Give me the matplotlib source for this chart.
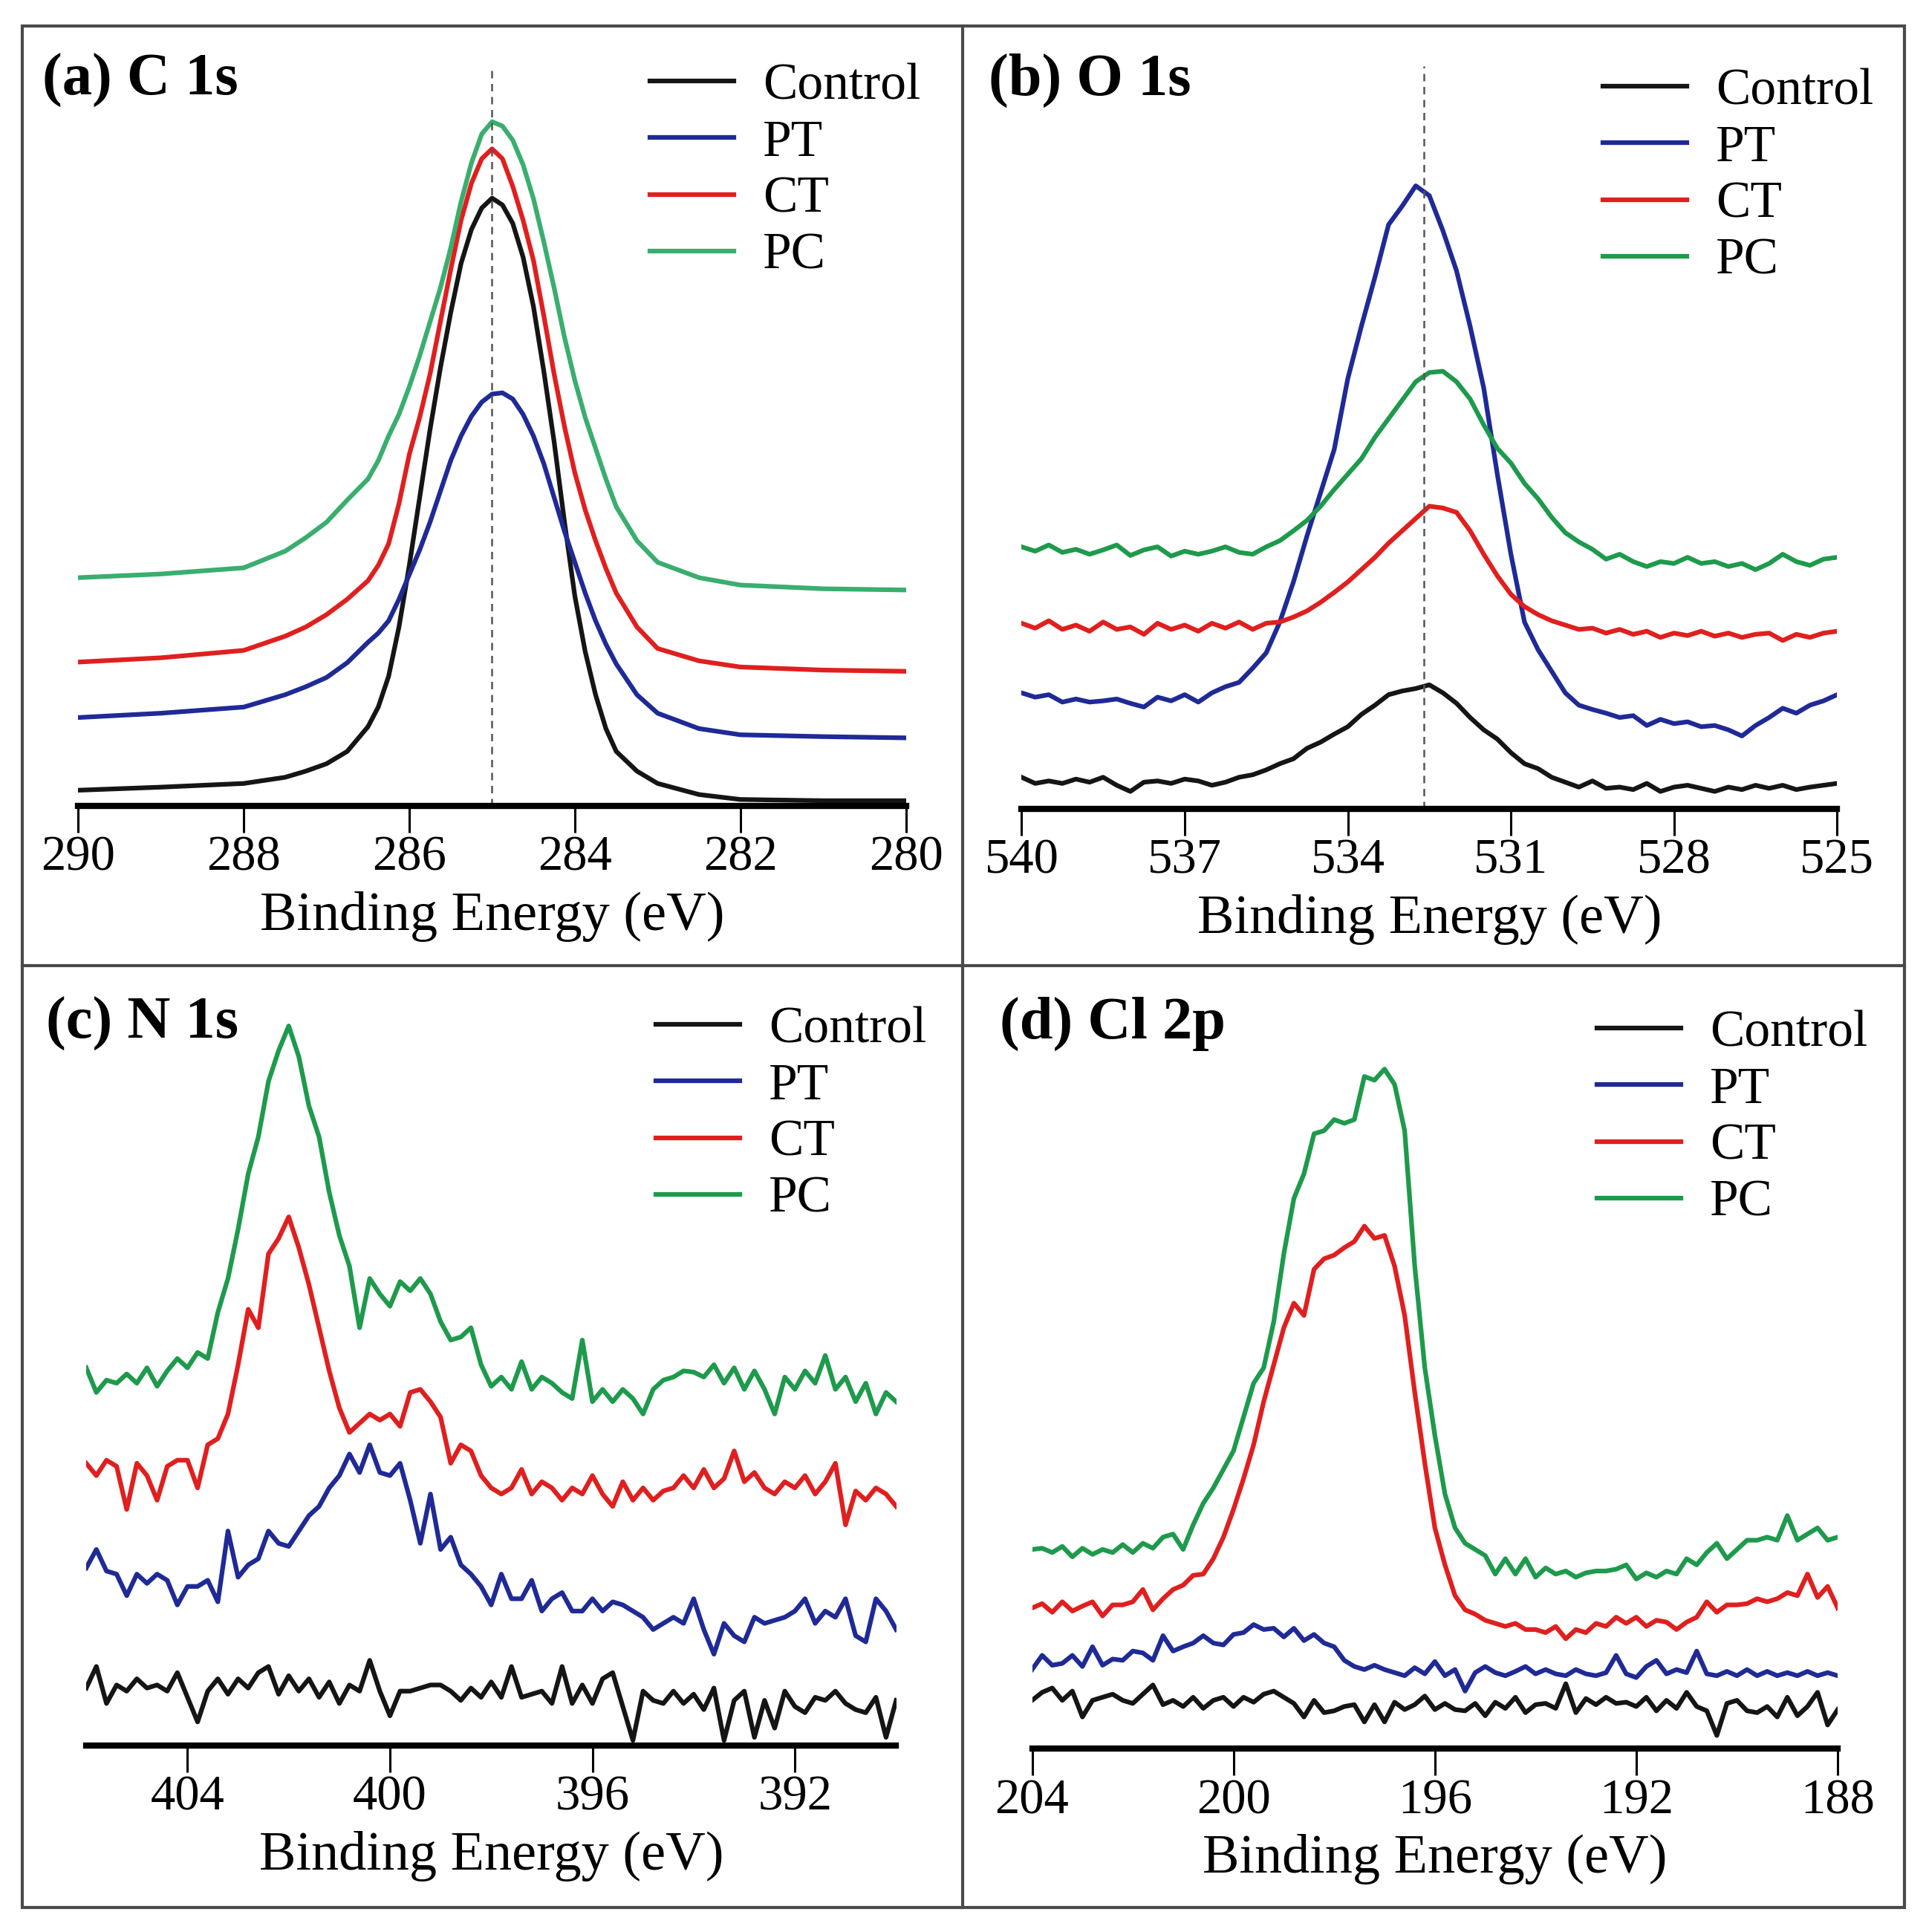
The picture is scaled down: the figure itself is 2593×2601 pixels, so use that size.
import matplotlib
matplotlib.use('Agg')
import matplotlib.pyplot as plt
import numpy as np
from matplotlib.patches import Rectangle
from matplotlib.lines import Line2D

plt.rcParams['font.family'] = 'Liberation Serif'

W, H = 2593, 2601

# ---- (a) C 1s ----
E_a = [290, 289, 288.5, 288, 287.5, 287.25, 287, 286.75,
       286.5, 286.375, 286.25, 286.125, 286, 285.875, 285.75, 285.625, 285.5, 285.375, 285.25, 285.125,
       285, 284.875, 284.75, 284.625, 284.5, 284.375, 284.25, 284.125, 284, 283.875, 283.75, 283.625, 283.5,
       283.25, 283, 282.5, 282, 281, 280]
c1s_control = [25, 30, 33, 36, 46, 56, 68, 88,
               128, 160, 210, 290, 390, 500, 610, 710, 800, 880, 935, 970, 986, 975, 945, 890, 810,
               705, 590, 460, 340, 250, 180, 125, 88,
               56, 36, 18, 10, 8, 8]
c1s_pt = [143, 150, 155, 160, 180, 193, 208, 232,
          265, 280, 300, 335, 375, 415, 460, 510, 560, 600, 632, 655, 668, 670, 660, 635, 600,
          555, 500, 445, 395, 345, 300, 262, 230,
          180, 150, 125, 115, 112, 110]
c1s_ct = [233, 240, 246, 252, 275, 290, 310, 335,
          365, 390, 425, 490, 570, 630, 700, 785, 870, 950, 1010, 1050, 1066, 1050, 1005, 950, 885,
          795, 700, 615, 540, 480, 430, 385, 345,
          290, 255, 235, 225, 220, 218]
c1s_pc = [370, 376, 381, 386, 413, 435, 460, 496,
          530, 560, 600, 635, 680, 730, 785, 840, 905, 980, 1043, 1090, 1110, 1103, 1080, 1040, 985,
          915, 840, 760, 690, 630, 580, 530, 485,
          430, 395, 370, 358, 352, 350]

# ---- (b) O 1s ---- 540 -> 525 eV, 0.25 eV step
E_b = np.linspace(540, 525, 61)
o1s_control = [51, 41, 45, 41, 48, 43, 51, 38, 28, 43, 45, 41, 48, 45, 38, 43, 51, 55, 63, 73,
               81, 98, 108, 121, 133, 153, 168, 185, 191, 195, 201, 188, 171, 148, 128, 113, 91, 73, 65, 51,
               43, 35, 45, 33, 35, 31, 41, 28, 35, 38, 33, 28, 35, 31, 38, 33, 38, 31, 35, 38,
               41]
o1s_pt = [188, 181, 185, 173, 178, 173, 175, 178, 171, 165, 181, 175, 185, 173, 188, 198, 205, 228, 253, 303,
          368, 443, 513, 583, 698, 783, 863, 948, 978, 1011, 995, 938, 873, 783, 683, 543, 413, 303, 258, 223,
          188, 168, 161, 155, 148, 151, 135, 145, 138, 141, 133, 135, 128, 118, 135, 148, 163, 155, 168, 175,
          185]
o1s_ct = [301, 293, 305, 291, 298, 288, 303, 291, 295, 283, 301, 291, 298, 288, 301, 293, 303, 291, 301, 303,
          311, 321, 335, 351, 368, 388, 408, 431, 451, 471, 491, 488, 481, 451, 413, 378, 348, 328, 315, 305,
          298, 291, 293, 285, 291, 283, 288, 278, 285, 281, 288, 280, 285, 278, 283, 285, 273, 283, 278, 285,
          288]
o1s_pc = [425, 418, 428, 416, 421, 413, 420, 428, 411, 420, 425, 410, 418, 413, 418, 425, 416, 413, 425, 435,
          451, 468, 491, 518, 543, 568, 603, 633, 663, 693, 708, 710, 693, 665, 623, 585, 561, 528, 503, 473,
          448, 433, 421, 405, 413, 401, 393, 401, 398, 408, 398, 401, 393, 398, 388, 398, 413, 401, 395, 405,
          408]

# ---- (c) N 1s ---- 406 -> 390 eV, 0.2 eV step
E_c = np.linspace(406, 390, 81)
n1s_control = [93, 128, 68, 98, 88, 108, 93, 98, 88, 118, 78, 38, 88, 108, 83, 108, 93, 118, 128, 83,
               113, 88, 108, 78, 103, 68, 98, 88, 138, 88, 48, 88, 88, 93, 98, 98, 88, 73, 93, 78,
               103, 78, 128, 78, 83, 88, 68, 128, 68, 98, 68, 108, 118, 63, 8, 88, 73, 68, 88, 68,
               83, 58, 93, 8, 73, 88, 13, 73, 28, 88, 63, 53, 78, 73, 88, 68, 58, 53, 78, 13,
               73]
n1s_pt = [288, 318, 283, 278, 243, 278, 263, 278, 268, 228, 258, 258, 268, 233, 348, 273, 293, 303, 348, 328,
          323, 348, 373, 388, 418, 438, 473, 443, 488, 443, 438, 458, 398, 328, 408, 318, 338, 293, 278, 258,
          228, 278, 238, 238, 268, 218, 238, 248, 218, 218, 238, 218, 233, 228, 218, 208, 188, 198, 208, 198,
          238, 188, 148, 198, 178, 168, 208, 198, 203, 208, 218, 238, 198, 218, 208, 238, 178, 168, 238, 218,
          188]
n1s_ct = [458, 438, 463, 453, 383, 458, 438, 398, 453, 463, 463, 418, 488, 498, 538, 618, 708, 678, 798, 823,
          858, 808, 748, 678, 608, 548, 508, 523, 538, 528, 538, 518, 573, 578, 558, 533, 458, 488, 478, 438,
          418, 408, 418, 448, 408, 428, 418, 398, 418, 408, 438, 408, 388, 428, 398, 418, 398, 413, 418, 438,
          418, 448, 418, 433, 478, 428, 443, 418, 408, 428, 418, 438, 408, 428, 458, 358, 413, 398, 418, 408,
          388]
n1s_pc = [613, 573, 593, 588, 603, 588, 613, 583, 608, 628, 613, 638, 628, 703, 758, 838, 928, 988, 1078, 1128,
          1168, 1118, 1038, 988, 898, 828, 778, 678, 758, 733, 713, 753, 738, 758, 733, 688, 658, 663, 678, 618,
          583, 598, 578, 623, 578, 598, 588, 573, 563, 658, 558, 578, 558, 578, 563, 538, 578, 593, 598, 608,
          606, 598, 618, 588, 613, 578, 608, 578, 538, 598, 578, 608, 588, 633, 578, 598, 558, 588, 538, 573,
          558]

# ---- (d) Cl 2p ---- 204 -> 188 eV, 0.2 eV step
E_d = np.linspace(204, 188, 81)
cl2p_control = [78, 91, 98, 78, 93, 51, 78, 83, 88, 78, 73, 88, 103, 71, 78, 68, 83, 65, 78, 83,
                68, 83, 75, 88, 93, 83, 73, 51, 78, 58, 61, 68, 71, 43, 71, 43, 75, 63, 71, 85,
                63, 73, 63, 61, 73, 53, 75, 65, 83, 58, 71, 73, 65, 105, 58, 81, 71, 83, 73, 75,
                68, 83, 61, 78, 65, 91, 68, 61, 21, 73, 78, 61, 58, 68, 51, 83, 53, 68, 91, 38,
                63]
cl2p_pt = [128, 151, 135, 138, 151, 133, 165, 135, 145, 143, 158, 155, 143, 183, 158, 165, 171, 183, 171, 168,
           185, 188, 201, 193, 195, 181, 195, 175, 185, 171, 165, 143, 133, 128, 135, 128, 123, 118, 131, 121,
           141, 118, 128, 93, 123, 133, 123, 118, 125, 133, 121, 128, 121, 118, 128, 121, 118, 123, 151, 121,
           115, 133, 143, 121, 128, 123, 158, 121, 118, 125, 118, 128, 118, 125, 118, 123, 118, 125, 118, 123,
           118]
cl2p_ct = [228, 235, 221, 238, 223, 231, 238, 215, 233, 233, 238, 258, 225, 243, 258, 265, 281, 283, 308, 343,
           388, 438, 493, 563, 623, 683, 723, 703, 778, 795, 801, 813, 823, 848, 828, 833, 783, 703, 578, 463,
           358, 298, 248, 225, 218, 208, 203, 198, 203, 193, 193, 188, 198, 178, 193, 188, 203, 198, 213, 203,
           213, 198, 208, 205, 193, 205, 213, 238, 221, 233, 233, 235, 243, 238, 243, 253, 248, 283, 245, 263,
           228]
cl2p_pc = [323, 325, 318, 328, 311, 325, 315, 323, 318, 331, 318, 333, 325, 343, 348, 323, 363, 398, 423, 453,
           483, 538, 593, 618, 693, 803, 893, 933, 998, 1003, 1021, 1015, 1021, 1091, 1085, 1103, 1078, 1003, 783, 618,
           508, 413, 358, 333, 323, 313, 283, 308, 283, 308, 278, 293, 283, 288, 278, 285, 288, 288, 291, 298,
           275, 285, 278, 288, 283, 308, 298, 318, 333, 308, 323, 338, 338, 343, 338, 378, 338, 348, 358, 338,
           343]

names = ['Control', 'PT', 'CT', 'PC']

# panel layout in pixels: x of left/right axis ends, y of axis line, y of top, y-range
panels = [
    dict(title='(a) C 1s', E=E_a, ys=[c1s_control, c1s_pt, c1s_ct, c1s_pc],
         px=(105.3, 1219.7), py=(1084.6, 37), ytop=1263, xlim=(290, 280),
         ticks=[290, 288, 286, 284, 282, 280], dash=(285.0, 1198),
         title_xy=(57, 128), leg_xy=(875, 85), green='#3aae6e'),
    dict(title='(b) O 1s', E=E_b, ys=[o1s_control, o1s_pt, o1s_ct, o1s_pc],
         px=(1375.4, 2473.3), py=(1088.7, 37), ytop=1268, xlim=(540, 525),
         ticks=[540, 537, 534, 531, 528, 525], dash=(532.6, 1205),
         title_xy=(1331, 128), leg_xy=(2158, 92), green='#1e9a4c'),
    dict(title='(c) N 1s', E=E_c, ys=[n1s_control, n1s_pt, n1s_ct, n1s_pc],
         px=(116.1, 1206.5), py=(2349.7, 1300), ytop=1266, xlim=(406, 390),
         ticks=[404, 400, 396, 392], dash=None,
         title_xy=(62, 1398), leg_xy=(883, 1355), green='#1e9a4c'),
    dict(title='(d) Cl 2p', E=E_d, ys=[cl2p_control, cl2p_pt, cl2p_ct, cl2p_pc],
         px=(1389.5, 2474.1), py=(2353.8, 1300), ytop=1271, xlim=(204, 188),
         ticks=[204, 200, 196, 192, 188], dash=None,
         title_xy=(1346, 1398), leg_xy=(2150, 1360), green='#1e9a4c'),
]

fig = plt.figure(figsize=(W / 100, H / 100), dpi=100)

for p in panels:
    x0, x1 = p['px']
    yb, yt = p['py']
    ax = fig.add_axes([x0 / W, 1 - yb / H, (x1 - x0) / W, (yb - yt) / H])
    ax.patch.set_alpha(0)
    cols = ['#151515', '#1f2a96', '#e01f1f', p['green']]
    for name, y, c in zip(names, p['ys'], cols):
        ax.plot(p['E'], y, color=c, lw=4.5, label=name)
    if p['dash'] is not None:
        ax.vlines(p['dash'][0], 0, p['dash'][1], colors='#555555', lw=1.8,
                  linestyles=(0, (4, 3)))
    ax.set_xlim(*p['xlim'])
    ax.set_ylim(0, p['ytop'])
    for s in ['top', 'left', 'right']:
        ax.spines[s].set_visible(False)
    ax.spines['bottom'].set_linewidth(6)
    ax.set_yticks([])
    ax.set_xticks(p['ticks'])
    ax.tick_params(axis='x', direction='out', length=26, width=2.2, labelsize=48, pad=3)
    ax.set_xlabel('Binding Energy (eV)', fontsize=53.5, labelpad=10)
    ax.legend(loc='upper left', bbox_to_anchor=(p['leg_xy'][0] / W, 1 - p['leg_xy'][1] / H),
              bbox_transform=fig.transFigure, frameon=False, fontsize=50,
              handlelength=1.62, handletextpad=0.57, labelspacing=0.18,
              borderpad=0, borderaxespad=0)
    fig.text(p['title_xy'][0] / W, 1 - p['title_xy'][1] / H, p['title'],
             fontsize=58, fontweight='bold', va='baseline', ha='left')

# outer frame and dividers
fc = '#4a4a4a'
fig.add_artist(Rectangle((30 / W, 1 - 2568 / H), (2564 - 30) / W, (2568 - 35) / H,
                         transform=fig.transFigure, fill=False, ec=fc, lw=3))
fig.add_artist(Line2D([1296 / W, 1296 / W], [1 - 2568 / H, 1 - 35 / H],
                      transform=fig.transFigure, color=fc, lw=3))
fig.add_artist(Line2D([30 / W, 2564 / W], [1 - 1300 / H, 1 - 1300 / H],
                      transform=fig.transFigure, color=fc, lw=3))

fig.savefig('out.png', dpi=100)
